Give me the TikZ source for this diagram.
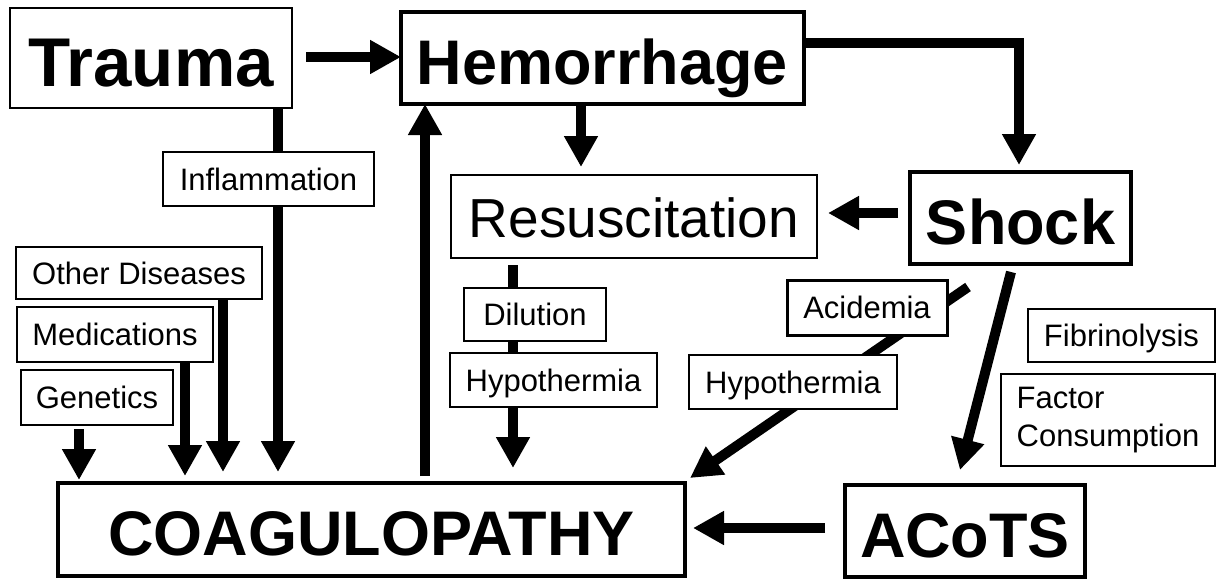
\documentclass[tikz,border=0pt]{standalone}
\usepackage{fontspec}
\setmainfont{Liberation Sans}
\usetikzlibrary{arrows.meta}
\pgfdeclarelayer{bg}
\pgfsetlayers{bg,main}
\begin{document}
\begin{tikzpicture}[x=1pt,y=-1pt,
  box/.style={draw=black, fill=white, inner sep=0pt, outer sep=0pt, anchor=center},
  thickbox/.style={box, line width=3.5pt},
  thinbox/.style={box, line width=1.8pt},
  bigtext/.style={font=\fontsize{63}{63}\selectfont\bfseries, text height=52pt, text depth=0pt},
  smalltext/.style={font=\fontsize{31}{38}\selectfont, text height=22pt, text depth=0pt},
  arr/.style={line width=10pt, -{Triangle[length=31pt,width=32pt]}},
]
\useasboundingbox (0,0) rectangle (1218,579);

% main boxes
\node[thinbox, minimum width=282pt, minimum height=100pt, font=\fontsize{69}{69}\selectfont\bfseries, text height=57pt, text depth=0pt] (trauma) at (151,58) {Trauma};
\node[thickbox, bigtext, minimum width=403pt, minimum height=92pt] (hem) at (602.5,58) {Hemorrhage};
\node[thinbox, line width=1.5pt, minimum width=366pt, minimum height=83pt, font=\fontsize{55}{55}\selectfont, text height=41pt, text depth=0pt] (resus) at (634,216.5) {Resuscitation};
\node[thickbox, bigtext, minimum width=221pt, minimum height=92pt] (shock) at (1020.5,218) {Shock};
\node[thickbox, bigtext, minimum width=240pt, minimum height=92pt] (acots) at (965,531) {ACoTS};
\node[thickbox, bigtext, minimum width=627pt, minimum height=93pt] (coag) at (371.5,529.5) {COAGULOPATHY};

% small label boxes
\node[thinbox, smalltext, minimum width=211pt, minimum height=54pt] (infl) at (268.5,179) {Inflammation};
\node[thinbox, smalltext, minimum width=246pt, minimum height=52pt] (other) at (139,273) {Other Diseases};
\node[thinbox, smalltext, minimum width=196pt, minimum height=55pt] (med) at (115,334.5) {Medications};
\node[thinbox, line width=2.3pt, smalltext, minimum width=152pt, minimum height=55pt] (gen) at (97,397.5) {Genetics};
\node[thinbox, smalltext, minimum width=142pt, minimum height=53pt] (dil) at (535,314.5) {Dilution};
\node[thinbox, smalltext, minimum width=207pt, minimum height=54pt] (hypo1) at (553.5,380) {Hypothermia};
\node[thickbox, line width=3pt, smalltext, minimum width=160pt, minimum height=55pt] (acid) at (867,307.5) {Acidemia};
\node[thinbox, smalltext, minimum width=208pt, minimum height=54pt] (hypo2) at (793,382) {Hypothermia};
\node[thinbox, smalltext, minimum width=187pt, minimum height=53pt] (fib) at (1121.5,335.5) {Fibrinolysis};
\node[thinbox, font=\fontsize{31}{38}\selectfont, align=left, minimum width=214pt, minimum height=92pt] (factor) at (1108,420) {Factor\\Consumption};

\begin{pgfonlayer}{bg}
\fill[white] (0,0) rectangle (1218,579);
\draw[arr] ([xshift=14pt,yshift=1pt]trauma.east) -- ([yshift=1pt]hem.west);
\draw[arr] ([xshift=-21.5pt]hem.south) -- ([xshift=-53pt,yshift=8pt]resus.north);
\draw[arr] ([yshift=15pt]hem.east) -| ([xshift=-1.5pt,yshift=7pt]shock.north);
\draw[arr] ([xshift=-12pt,yshift=5pt]shock.west) -- ([xshift=11pt,yshift=3.5pt]resus.east);
\draw[arr] ([xshift=-9.5pt,yshift=-8pt]shock.south) -- ([xshift=-5pt,yshift=15pt]acots.north);
\draw[arr] ([xshift=-52.5pt,yshift=-23pt]shock.south) -- ([xshift=5pt,yshift=5pt]coag.north east);
\draw[arr] ([xshift=-121pt,yshift=-7pt]resus.south) -- ([xshift=141.5pt,yshift=15pt]coag.north);
\draw[arr] ([xshift=127pt]trauma.south) -- ([xshift=-93.5pt,yshift=11pt]coag.north);
\draw[arr] ([xshift=84pt]other.south) -- ([xshift=-148.5pt,yshift=11pt]coag.north);
\draw[arr] ([xshift=70pt]med.south) -- ([xshift=-186.5pt,yshift=7pt]coag.north);
\draw[arr] ([xshift=-18pt,yshift=-4pt]gen.south) -- ([xshift=-292.5pt,yshift=3pt]coag.north);
\draw[arr] ([xshift=53.5pt,yshift=7pt]coag.north) -- ([xshift=-177.5pt]hem.south);
\draw[arr] ([xshift=-20pt,yshift=3pt]acots.west) -- ([xshift=8pt,yshift=1.5pt]coag.east);
\end{pgfonlayer}
\end{tikzpicture}
\end{document}
